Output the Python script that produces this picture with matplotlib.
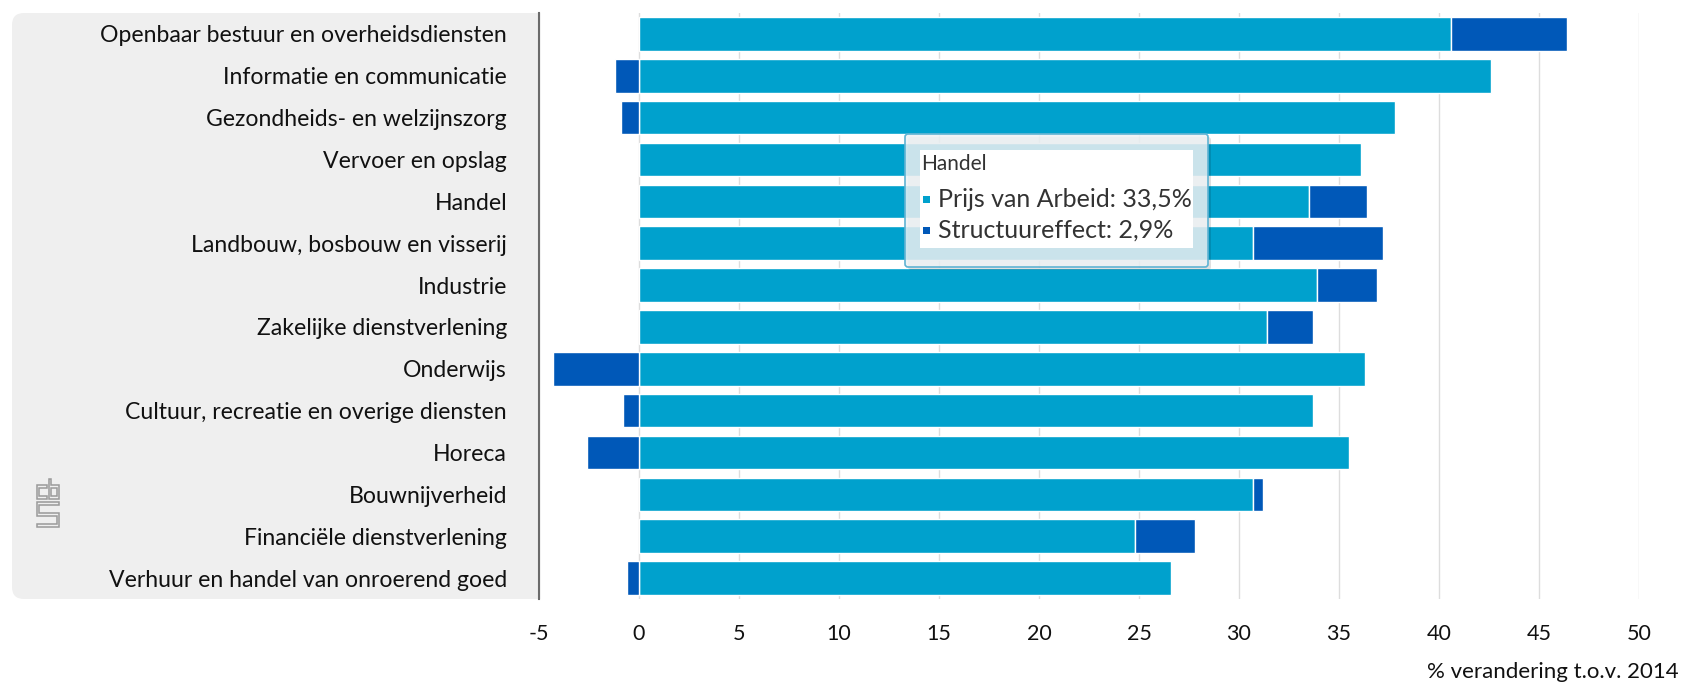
import matplotlib
matplotlib.use("Agg")
import matplotlib.pyplot as plt
from matplotlib.patches import FancyBboxPatch, Rectangle, Polygon

plt.rcParams['font.family'] = ['Lato', 'DejaVu Sans']

categories = [
    "Openbaar bestuur en overheidsdiensten",
    "Informatie en communicatie",
    "Gezondheids- en welzijnszorg",
    "Vervoer en opslag",
    "Handel",
    "Landbouw, bosbouw en visserij",
    "Industrie",
    "Zakelijke dienstverlening",
    "Onderwijs",
    "Cultuur, recreatie en overige diensten",
    "Horeca",
    "Bouwnijverheid",
    "Financiële dienstverlening",
    "Verhuur en handel van onroerend goed",
]
prijs_van_arbeid = [40.6, 42.6, 37.8, 36.1, 33.5, 30.7, 33.9, 31.4, 36.3, 33.7, 35.5, 30.7, 24.8, 26.6]
structuureffect = [5.8, -1.2, -0.9, 0.0, 2.9, 6.5, 3.0, 2.3, -4.3, -0.8, -2.6, 0.5, 3.0, -0.6]
x_ticks = [-5, 0, 5, 10, 15, 20, 25, 30, 35, 40, 45, 50]
series_names = ["Prijs van Arbeid", "Structuureffect"]
x_title = "% verandering t.o.v. 2014"
tooltip_index = 4

LIGHT = "#00a1cd"
DARK = "#0058b8"

W, H = 1683, 685
fig = plt.figure(figsize=(W / 100, H / 100), dpi=100)

# background layer (pixel coords)
bg = fig.add_axes([0, 0, 1, 1], zorder=0)
bg.set_xlim(0, W)
bg.set_ylim(H, 0)
bg.axis("off")
bg.add_patch(FancyBboxPatch((12, 13), 560, 586, boxstyle="round,pad=0,rounding_size=12",
                            facecolor="#efefef", edgecolor="none"))

# CBS logo (outline shapes)
def lg(pts):
    return [(37 + u * 2.8, 527 - v * 4.0) for u, v in pts]

logo_shapes = [
    [(3.7, 10.5), (0, 10.5), (0, 7), (3.7, 7), (3.7, 7.8), (0.8, 7.8), (0.8, 9.7), (3.7, 9.7)],
    [(4.3, 12), (5.1, 12), (5.1, 10.5), (8, 10.5), (8, 7), (4.3, 7)],
    [(5.1, 7.8), (7.2, 7.8), (7.2, 9.7), (5.1, 9.7)],
    [(8, 6.3), (0, 6.3), (0, 2.7), (7.2, 2.7), (7.2, 0.8), (0, 0.8), (0, 0), (8, 0),
     (8, 3.5), (0.8, 3.5), (0.8, 5.5), (8, 5.5)],
]
for s in logo_shapes:
    bg.add_patch(Polygon(lg(s), closed=True, facecolor="none", edgecolor="#9a9a9a", lw=1.1))

# main chart
left = 539 / W
right = 1639 / W
bottom = 1 - 599 / H
top = 1 - 13 / H
ax = fig.add_axes([left, bottom, right - left, top - bottom], zorder=1)
ax.set_facecolor("white")

y = list(range(len(categories)))
ax.barh(y, prijs_van_arbeid, height=0.8, color=LIGHT, edgecolor="white", linewidth=1, zorder=2)
struct_left = [p if s > 0 else 0 for p, s in zip(prijs_van_arbeid, structuureffect)]
ax.barh(y, structuureffect, left=struct_left, height=0.8, color=DARK, edgecolor="white",
        linewidth=1, zorder=2)

ax.set_xlim(-5, 50)
ax.set_ylim(len(categories) - 0.5, -0.5)
ax.set_xticks(x_ticks)
ax.set_xticklabels([str(t) for t in x_ticks], fontsize=15.5, color="#111111")
ax.set_yticks(y)
ax.set_yticklabels(categories, fontsize=16.6, color="#111111")
ax.tick_params(axis="x", length=0, pad=18)
ax.tick_params(axis="y", length=0, pad=23)
ax.grid(axis="x", color="#dddddd", linewidth=1, zorder=0)
ax.set_axisbelow(True)
for sp in ["top", "right", "bottom"]:
    ax.spines[sp].set_visible(False)
ax.spines["left"].set_color("#6b6b6b")
ax.spines["left"].set_linewidth(1.5)
ax.spines["left"].set_zorder(3)

fig.text(1679 / W, 1 - 672 / H, x_title, ha="right", va="center", fontsize=16, color="#111111")

# tooltip overlay
ov = fig.add_axes([0, 0, 1, 1], zorder=3)
ov.set_xlim(0, W)
ov.set_ylim(H, 0)
ov.axis("off")
ov.patch.set_alpha(0)
ov.add_patch(FancyBboxPatch((908, 137), 303, 133, boxstyle="round,pad=0,rounding_size=3",
                            facecolor="#000000", alpha=0.12, edgecolor="none"))
ov.add_patch(FancyBboxPatch((905, 134), 303, 133, boxstyle="round,pad=0,rounding_size=3",
                            facecolor=(0.93, 0.95, 0.96, 0.86), edgecolor="#5fb3d3", lw=1.2))
ov.add_patch(Rectangle((920, 150), 273, 98, facecolor="white", edgecolor="none"))
ov.text(921, 164, categories[tooltip_index], fontsize=15, color="#333333", va="center", ha="left")
vals = [prijs_van_arbeid[tooltip_index], structuureffect[tooltip_index]]
cols = [LIGHT, DARK]
for i, (nm, v, c) in enumerate(zip(series_names, vals, cols)):
    yy = 199 + i * 31
    ov.add_patch(Rectangle((923, yy - 3.5), 7, 7, facecolor=c, edgecolor="none"))
    ov.text(938, yy, f"{nm}: {v:.1f}%".replace(".", ","), fontsize=18, color="#333333",
            va="center", ha="left")

fig.savefig("out.png", dpi=100, facecolor="white")
